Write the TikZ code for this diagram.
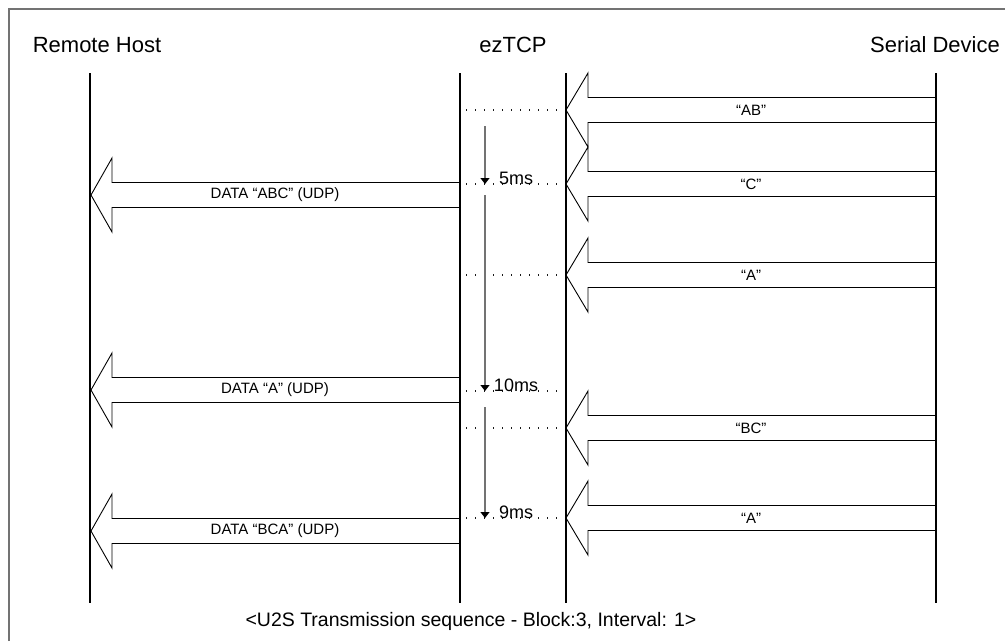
\documentclass[tikz,border=0pt]{standalone}
\usepackage{fontspec}
\setmainfont{Liberation Sans}
\usetikzlibrary{arrows.meta, calc}
\tikzset{
	frameline/.style={draw=black!55, line width=1.2pt},
	lifeline/.style={line width=2.2pt},
	blockarrow/.append style={
		draw,
		fill=white,
		line width=0.9pt,
		line join=miter,
	},
	guide/.style={black!90, line width=1.1pt, dash pattern=on 1.2pt off 7.8pt},
	timeline/.style={black!55, line width=1.1pt, -{Triangle[width=9pt,length=6pt,color=black]}},
	title/.style={font=\fontsize{22}{26}\selectfont, inner sep=0pt},
	labe/.style={font=\fontsize{15}{18}\selectfont, inner sep=0pt},
	timelbl/.style={font=\fontsize{18}{21}\selectfont, inner sep=0pt},
}

\begin{document}
\begin{tikzpicture}[x=1pt, y=-1pt]
\useasboundingbox (0,0) rectangle (1005,641);

\draw[frameline] (9,641) -- (9,9) -- (1005,9);

% lifelines x positions
\coordinate (rh) at (90,0);
\coordinate (ezl) at (460,0);
\coordinate (ezr) at (566,0);
\coordinate (sd) at (936,0);

\node[title] (rhname) at (97,45) {Remote Host};
\node[title] (ezname) at (513,45) {ezTCP};
\node[title] (sdname) at (935,45) {Serial Device};

% serial device -> ezTCP
\foreach \y/\txt [count=\i] in {110/“AB”, 184/“C”, 275/“A”, 428/“BC”, 518/“A”} {
	\draw[blockarrow] ([shift={(0,\y-12.5)}]sd) -- ([shift={(22,\y-12.5)}]ezr)
		-- ([shift={(22,\y-37)}]ezr) -- ([shift={(0,\y)}]ezr)
		-- ([shift={(22,\y+37)}]ezr) -- ([shift={(22,\y+12.5)}]ezr)
		-- ([shift={(0,\y+12.5)}]sd) -- cycle;
	\node[labe] (sdmsg\i) at ($(ezr)!0.5!(sd)+(0,\y)$) {\txt};
};

% ezTCP -> remote host
\foreach \y/\txt [count=\i] in {195/DATA “ABC” (UDP), 390/DATA “A” (UDP), 531/DATA “BCA” (UDP)} {
	\draw[blockarrow] ([shift={(0,\y-12.5)}]ezl) -- ([shift={(22,\y-12.5)}]rh)
		-- ([shift={(22,\y-37)}]rh) -- ([shift={(1,\y)}]rh)
		-- ([shift={(22,\y+37)}]rh) -- ([shift={(22,\y+12.5)}]rh)
		-- ([shift={(0,\y+12.5)}]ezl) -- cycle;
	\node[labe] (udpmsg\i) at ($(rh)!0.5!(ezl)+(0,\y)$) {\txt};
};

% dotted marks between the ezTCP lines
\foreach \y in {110, 184, 275, 391, 428, 518} {
	\draw[guide] ([shift={(6,\y)}]ezl) -- ([shift={(-8,\y)}]ezr);
};

% intervals
\foreach \ya/\yb/\txt [count=\i] in {126/184/5ms, 195/391/10ms, 407/518/9ms} {
	\draw[timeline] ([shift={(25,\ya)}]ezl) -- ([shift={(25,\yb)}]ezl);
	\node[timelbl] (gap\i) at ([shift={(56,\yb-6)}]ezl) {\txt};
};

\foreach \c in {rh, ezl, ezr, sd} {
	\draw[lifeline] ([shift={(0,73)}]\c) -- ([shift={(0,603)}]\c);
};

\node[font=\fontsize{19.5}{23}\selectfont, inner sep=0pt] (caption) at (471,621)
	{<U2S Transmission sequence - Block:3, Interval: 1>};
\end{tikzpicture}
\end{document}
